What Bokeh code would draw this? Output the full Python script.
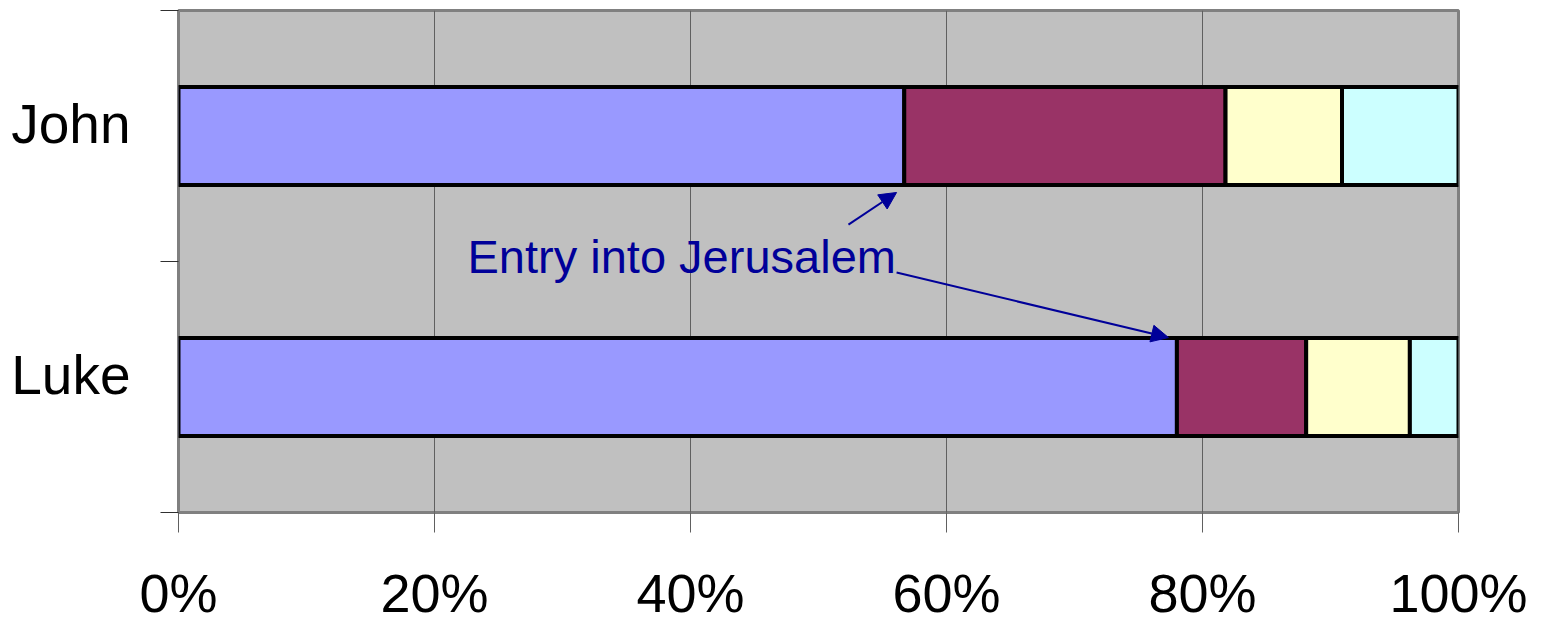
from bokeh.plotting import figure
from bokeh.models import (ColumnDataSource, FixedTicker, NumeralTickFormatter,
                          Arrow, NormalHead, Label)
from bokeh.embed import file_html
from bokeh.resources import INLINE

# ---- data ----
categories = ["John", "Luke"]
cat_pos = [1.5, 0.5]
segment_names = ["s1", "s2", "s3", "s4"]
john = [0.567, 0.251, 0.091, 0.091]
luke = [0.780, 0.101, 0.081, 0.038]
colors = ["#9999FF", "#993366", "#FFFFCC", "#CCFFFF"]
x_ticks = [0, 0.2, 0.4, 0.6, 0.8, 1.0]

annotation_text = "Entry into Jerusalem"
annotation_pos = (0.2258, 1.020)
arrow1 = (0.5234, 1.147, 0.561, 1.275)
arrow2 = (0.561, 0.956, 0.7734, 0.697)

FONT = "Liberation Sans"
LABEL_SHIFT = 0.048  # category labels sit slightly above the bar centre

src = dict(y=cat_pos)
for i, name in enumerate(segment_names):
    src[name] = [john[i], luke[i]]
source = ColumnDataSource(src)

p = figure(width=1543, height=625, x_range=(0, 1), y_range=(0, 2),
           output_backend="svg", toolbar_location=None,
           min_border_left=178, min_border_right=85,
           min_border_top=10, min_border_bottom=113)

p.background_fill_color = "#C0C0C0"
p.border_fill_color = "white"
p.outline_line_color = "#808080"
p.outline_line_width = 3

p.hbar_stack(segment_names, y="y", height=0.39, color=colors, source=source,
             line_color="black", line_width=4)

# grid
p.xgrid.ticker = FixedTicker(ticks=x_ticks)
p.xgrid.grid_line_color = "#606060"
p.xgrid.grid_line_width = 1
p.ygrid.grid_line_color = None

# x axis
xa = p.xaxis[0]
xa.ticker = FixedTicker(ticks=x_ticks)
xa.formatter = NumeralTickFormatter(format="0%")
xa.axis_line_color = None
xa.major_tick_out = 20
xa.major_tick_in = 0
xa.major_tick_line_color = "#606060"
xa.minor_tick_line_color = None
xa.major_label_text_font = FONT
xa.major_label_text_font_size = "54px"
xa.major_label_text_color = "black"
xa.major_label_standoff = 30

# y axis
label_pos = [c + LABEL_SHIFT for c in cat_pos]
ya = p.yaxis[0]
ya.ticker = FixedTicker(ticks=label_pos, minor_ticks=[0, 1, 2])
ya.major_label_overrides = {label_pos[i]: categories[i] for i in range(len(categories))}
ya.axis_line_color = None
ya.major_tick_out = 0
ya.major_tick_in = 0
ya.minor_tick_out = 18
ya.minor_tick_in = 0
ya.minor_tick_line_color = "#303030"
ya.major_label_text_font = FONT
ya.major_label_text_font_size = "55px"
ya.major_label_text_color = "black"
ya.major_label_standoff = 30

# annotation
for (xs, ys, xe, ye) in (arrow1, arrow2):
    p.add_layout(Arrow(end=NormalHead(size=17, fill_color="#000099",
                                      line_color="#000099"),
                       x_start=xs, y_start=ys, x_end=xe, y_end=ye,
                       line_color="#000099", line_width=2))

p.add_layout(Label(x=annotation_pos[0], y=annotation_pos[1], text=annotation_text,
                   text_font=FONT, text_font_size="47px", text_color="#000099",
                   text_baseline="alphabetic"))

open("out.html", "w").write(file_html(p, INLINE))
